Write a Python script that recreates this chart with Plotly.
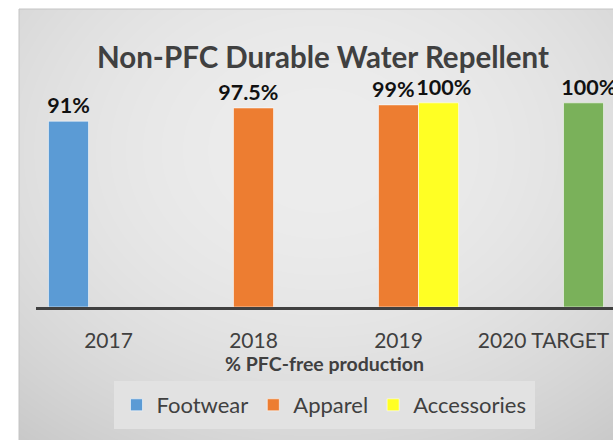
import base64
import struct
import zlib

import numpy as np
import plotly.graph_objects as go

# ---- data ----
categories = ["2017", "2018", "2019", "2020 TARGET"]
footwear = [91, None, None, None]
apparel = [None, 97.5, 99, None]
accessories = [None, None, 100, 100]
accessories_colors = ["#ffff24", "#ffff24", "#ffff24", "#7ab15a"]
series_names = ["Footwear", "Apparel", "Accessories"]
title_text = "Non-PFC Durable Water Repellent"
x_title = "% PFC-free production"

NBSP = "\u00a0"


def labels(vals, lead=0, trail=0):
    return ["" if v is None else NBSP * lead + f"{v:g}%" + NBSP * trail for v in vals]


# ---- background gradient image (style only) ----
W, H = 594, 431  # chart area x 19..613, y 9..440
xs = np.arange(W) + 19
ys = np.arange(H) + 9
X, Y = np.meshgrid(xs, ys)
r2 = ((X - 320) / 420.0) ** 2 + ((Y - 150) / 330.0) ** 2
img = np.clip(237 - 28 * r2, 0, 255).astype(np.uint8)


def png_uri(arr):
    h, w = arr.shape
    raw = b"".join(b"\x00" + arr[i].tobytes() for i in range(h))

    def chunk(t, d):
        c = struct.pack(">I", len(d)) + t + d
        return c + struct.pack(">I", zlib.crc32(t + d) & 0xFFFFFFFF)

    png = (b"\x89PNG\r\n\x1a\n"
           + chunk(b"IHDR", struct.pack(">IIBBBBB", w, h, 8, 0, 0, 0, 0))
           + chunk(b"IDAT", zlib.compress(raw, 9))
           + chunk(b"IEND", b""))
    return "data:image/png;base64," + base64.b64encode(png).decode()


# ---- geometry (pixels) ----
FIG_W, FIG_H = 613, 440
L, T, B = 36, 62, 133
PW = FIG_W - L
PH = FIG_H - T - B


def px_x(p):
    return (p - L) / PW


def px_y(p):
    return (FIG_H - B - p) / PH


line_col = "rgba(255,255,255,0.55)"
txt_font = dict(family="Lato, Carlito, sans-serif", size=21.5,
                color="#111111", weight="bold")

fig = go.Figure()
fig.add_trace(go.Bar(name=series_names[0], x=categories, y=footwear,
                     marker=dict(color="#5b9bd5", line=dict(color=line_col, width=1)),
                     text=labels(footwear)))
fig.add_trace(go.Bar(name=series_names[1], x=categories, y=apparel,
                     marker=dict(color="#ed7d31", line=dict(color=line_col, width=1)),
                     text=labels(apparel, trail=2)))
fig.add_trace(go.Bar(name=series_names[2], x=categories, y=accessories,
                     marker=dict(color=accessories_colors, line=dict(color=line_col, width=1)),
                     text=labels(accessories, lead=2)))
fig.update_traces(textposition="outside", constraintext="none", cliponaxis=False,
                  textfont=txt_font, hoverinfo="skip")

fig.update_layout(
    width=FIG_W, height=FIG_H,
    margin=dict(l=L, r=0, t=T, b=B),
    paper_bgcolor="white",
    plot_bgcolor="rgba(0,0,0,0)",
    barmode="group",
    bargap=0.172,
    bargroupgap=0,
    font=dict(family="Lato, Carlito, sans-serif", color="#404040"),
    title=dict(text=title_text, x=323 / FIG_W, xref="container", xanchor="center",
               y=1 - 58 / FIG_H, yref="container", yanchor="middle",
               font=dict(family="Lato, sans-serif", size=29.5, color="#404040", weight="bold")),
    xaxis=dict(range=[-0.5, -0.5 + PW / 145.0], showline=True, linecolor="#404040",
               linewidth=3, ticks="", ticklabelstandoff=13,
               tickfont=dict(size=21, color="#404040"),
               title=dict(text=x_title, standoff=1,
                          font=dict(size=19.5, color="#404040", weight="bold")),
               showgrid=False, zeroline=False, fixedrange=True),
    yaxis=dict(range=[0, 120], visible=False, fixedrange=True),
    legend=dict(orientation="h", x=px_x(324), xanchor="center", y=px_y(381), yanchor="top",
                bgcolor="#e2e2e2", font=dict(size=22, color="#404040"),
                bordercolor="#e2e2e2", borderwidth=3),
    showlegend=True,
    images=[dict(source=png_uri(img), xref="paper", yref="paper",
                 x=px_x(19), y=px_y(9), sizex=px_x(613) - px_x(19), sizey=px_y(9) - px_y(440),
                 xanchor="left", yanchor="top", sizing="stretch", layer="below")],
    shapes=[dict(type="rect", xref="paper", yref="paper", x0=px_x(19), x1=px_x(614),
                 y0=px_y(441), y1=px_y(9), line=dict(color="#c4c4c4", width=1),
                 fillcolor="rgba(0,0,0,0)", layer="below")],
)

fig.write_html("out.html",
               config={"displayModeBar": False},
               post_script="document.body.style.margin='0px';"
                           "document.body.style.overflow='hidden';")
